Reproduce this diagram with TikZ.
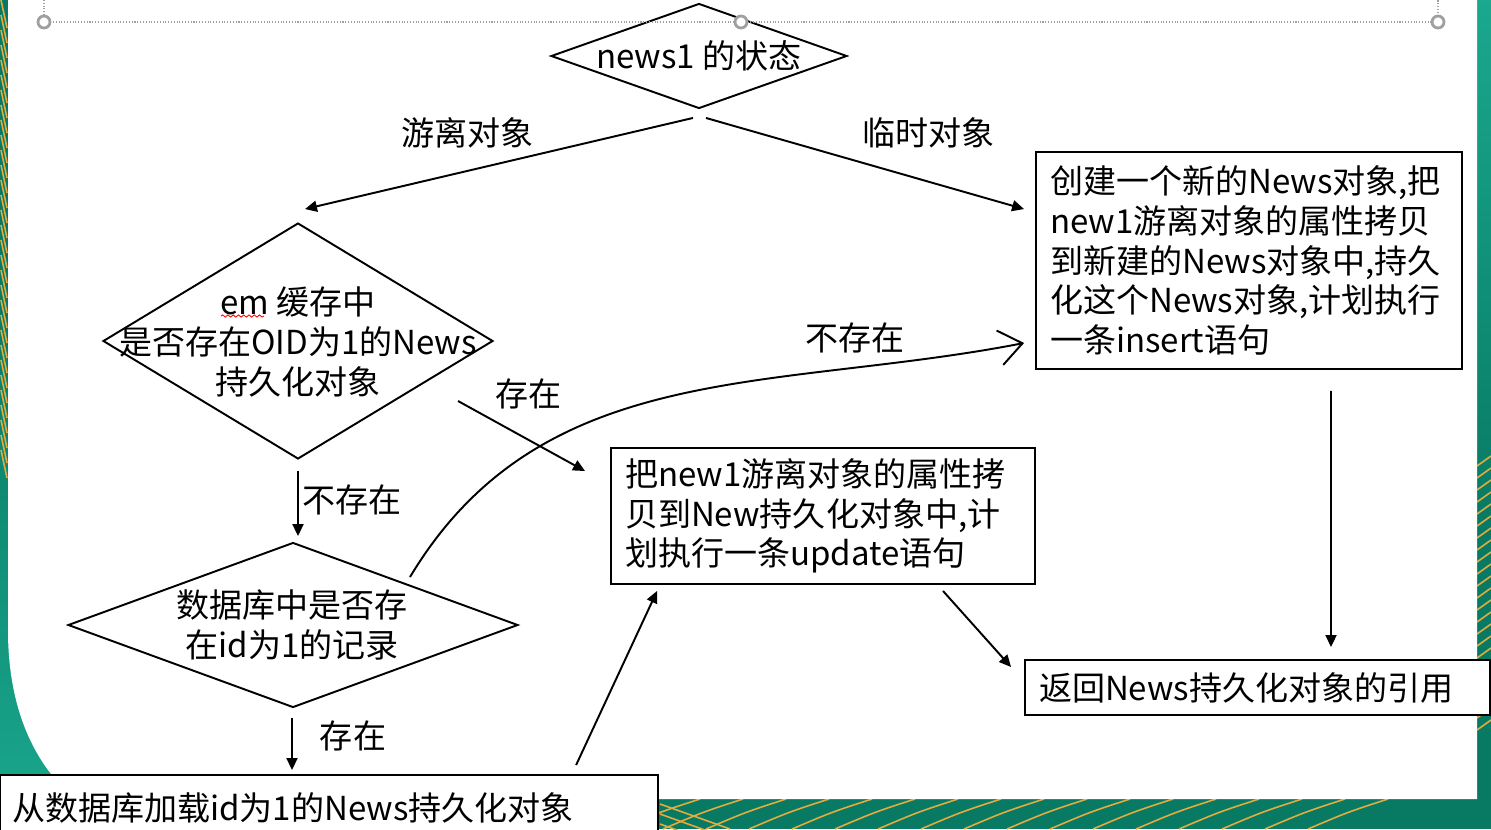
\documentclass[tikz,border=0pt]{standalone}
\usepackage{fontspec}
\setmainfont{Noto Sans CJK SC}
\usetikzlibrary{shapes.geometric,arrows.meta,decorations.pathmorphing}
\definecolor{slidegreen}{RGB}{8,122,100}
\definecolor{slideteal}{RGB}{26,168,142}
\definecolor{slidegold}{RGB}{228,172,62}
\definecolor{handlegray}{RGB}{160,160,160}

\begin{document}
\begin{tikzpicture}[x=0.02cm,y=-0.02cm,>={Triangle[length=0.24cm,width=0.22cm]},line width=1.1pt,
    every node/.style={font=\fontsize{18.8pt}{22.6pt}\selectfont},
    decision node/.style={diamond,draw,inner sep=0pt},
    box node/.style={rectangle,draw,fill=white,align=left,inner xsep=0.28cm,inner ysep=0pt},
    text node/.style={inner sep=0pt,align=center},
    gold line/.style={slidegold,line width=0.9pt}]
                \useasboundingbox (0,0) rectangle (1491,829);
                \clip (0,0) rectangle (1491,829);

                \fill[slidegreen] (0,0) rectangle (1491,829);
                \shade[top color=slidegreen,bottom color=slideteal] (0,300) rectangle (80,829);
                \shade[top color=slideteal,bottom color=slidegreen] (1477,0) rectangle (1491,520);
                \foreach \k in {0,...,30}
                    \draw[gold line] (1,\k*15) -- (7,\k*15+28);
                \foreach \k in {0,...,22}
                    \draw[gold line] (1477,466+\k*12) -- (1491,456+\k*12);
                \foreach \k in {0,...,16}
                    \draw[gold line] (620+\k*43,829) .. controls (660+\k*43,812) .. (700+\k*43,799);
                \foreach \k in {0,...,2}
                    \draw[gold line] (660,804+\k*10) -- (730,829+\k*10);
                \fill[white] (8,0) -- (1477,0) -- (1477,799) -- (75,799) .. controls (35,765) and (8,710) .. (8,630) -- cycle;

                \node [decision node, minimum width=5.92cm, minimum height=2.1cm](1) at (699,56) {};
                \node [text node](1t) at (1) {news1 的状态};

                \node [decision node, minimum width=7.8cm, minimum height=4.72cm](2) at (298,341) {};
                \node [text node](2t) at (298,342) {em 缓存中\\是否存在OID为1的News\\持久化对象};

                \node [decision node, minimum width=9cm, minimum height=3.3cm](3) at (293,625) {};
                \node [text node](3t) at (292,625) {数据库中是否存\\在id为1的记录};

                \node [box node, text width=7.92cm, minimum height=2.72cm](4) at (823,516) {把new1游离对象的属性拷\\贝到New持久化对象中,计\\划执行一条update语句};
                \node [box node, text width=7.96cm, minimum height=4.34cm](5) at (1249,260.5) {创建一个新的News对象,把\\new1游离对象的属性拷贝\\到新建的News对象中,持久\\化这个News对象,计划执行\\一条insert语句};
                \node [box node, text width=8.74cm, minimum height=1.1cm](6) at (1257.5,687.5) {返回News持久化对象的引用};
                \node [box node, inner xsep=0.24cm, text width=12.68cm, minimum height=1.3cm](7) at (329,807.5) {从数据库加载id为1的News持久化对象};

                \draw[red, line width=0.5pt, decorate, decoration={snake, amplitude=0.6pt, segment length=3pt}] (221,316) -- (264,316);

                \path[->]
                    ([shift={(-6,8.5)}]1.south) edge node[pos=0.58, yshift=0.76cm]{游离对象} ([shift={(7,-13)}]2.north)
                    ([shift={(7,8.5)}]1.south) edge node[pos=0.7, yshift=0.98cm]{临时对象} ([shift={(-11,58)}]5.north west)
                    ([shift={(160,60)}]2.center) edge node[pos=0.555, yshift=0.92cm]{存在} ([shift={(-25,24)}]4.north west)
                    ([shift={(0,11)}]2.south) edge node[right, inner sep=2pt, pos=0.45]{不存在} ([shift={(0,-5.5)}]2.south |- 3.north)
                    ([shift={(-1,9.5)}]3.south) edge node[right=0.47cm, inner sep=2pt, pos=0.35]{存在} ([shift={(-1,-4)}]3.south |- 7.north)
                    ([shift={(577,-9)}]7.north west) edge ([shift={(47,6)}]4.south west)
                    ([shift={(117,-48)}]3.center) edge[-{Straight Barb[length=0.46cm,width=0.7cm]}, out=59, in=191] node[pos=0.77, yshift=0.6cm]{不存在} ([shift={(-11,82.5)}]5.west)
                    ([shift={(120,6)}]4.south) edge ([shift={(-13,8)}]6.north west)
                    ([shift={(82,21)}]5.south) edge ([shift={(73.5,-12)}]6.north)
                    ;

                \draw[handlegray, densely dotted, line width=0.6pt] (44,0) -- (44,22) -- (1438,22) -- (1438,0);
                \foreach \x in {44,741,1438}
                    \draw[handlegray, fill=white, line width=1.6pt] (\x,22) circle (0.12cm);
\end{tikzpicture}
\end{document}
